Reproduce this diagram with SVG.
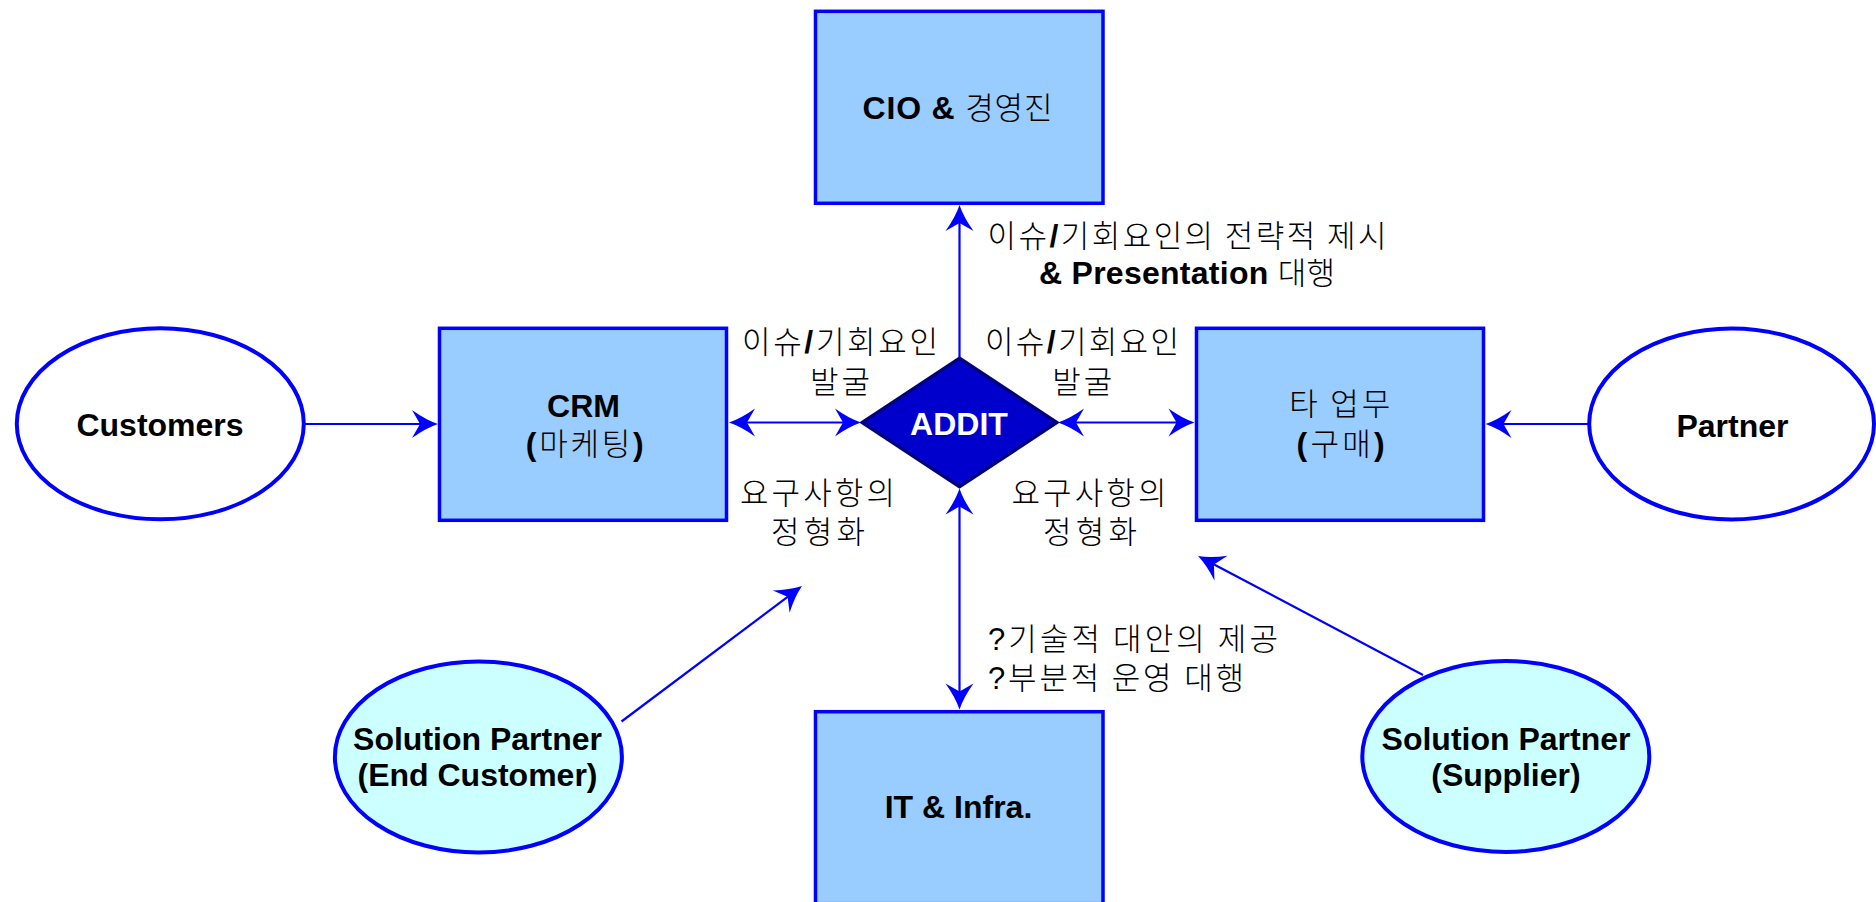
<svg xmlns="http://www.w3.org/2000/svg" width="1876" height="902" viewBox="0 0 1876 902">
  <style>
    .box { fill: #99CCFF; stroke: #0000FF; stroke-width: 3.5; }
    .oval { fill: #FFFFFF; stroke: #0000FF; stroke-width: 4; }
    .oval2 { fill: #CCFFFF; stroke: #0000FF; stroke-width: 4; }
    .hub { fill: #0000CC; stroke: #000080; stroke-width: 3.5; stroke-linejoin: miter; }
    .link { fill: none; stroke: #0000FF; stroke-width: 2.2; }
    .one { marker-end: url(#ah); }
    .two { marker-start: url(#ah); marker-end: url(#ah); }
    text { fill: #000000; }
    .b { font-family: "Liberation Sans", Arial, sans-serif; font-weight: bold; font-size: 32px; }
    .k { font-family: "Noto Sans CJK KR", "Noto Sans CJK SC", sans-serif; font-weight: 300; font-size: 31px; }
    .q { font-family: "Liberation Sans", Arial, sans-serif; font-weight: normal; font-size: 31px; }
    .w { fill: #FFFFFF; }
  </style>
  <defs>
    <marker id="ah" viewBox="-27 -15 28 30" refX="-8" refY="0" markerWidth="28" markerHeight="30" markerUnits="userSpaceOnUse" orient="auto-start-reverse">
      <path d="M0,0 Q-12,-4 -26,-14 L-18,0 L-26,14 Q-12,4 0,0 Z" fill="#0000FF"/>
    </marker>
  </defs>

  <rect width="1876" height="902" fill="#FFFFFF"/>

  <!-- connectors -->
  <g id="connectors">
    <path class="link one" d="M303.5,424 H430"/>
    <path class="link one" d="M1589,424 H1493.5"/>
    <path class="link two" d="M737,422.5 H853"/>
    <path class="link two" d="M1066,422.5 H1186.5"/>
    <path class="link one" d="M959.5,357 V213"/>
    <path class="link two" d="M959.5,496.5 V701.5"/>
    <path class="link one" d="M621.5,721.5 L795.6,590.8"/>
    <path class="link one" d="M1423,675 L1205.1,559.7"/>
  </g>

  <!-- connector labels -->
  <g id="labels">
    <text x="840" y="353" text-anchor="middle" textLength="196" lengthAdjust="spacing"><tspan class="k">이슈</tspan><tspan class="b">/</tspan><tspan class="k">기회요인</tspan></text>
    <text class="k" x="840" y="393" text-anchor="middle" textLength="60" lengthAdjust="spacing">발굴</text>
    <text class="k" x="817.5" y="504" text-anchor="middle" textLength="155" lengthAdjust="spacing">요구사항의</text>
    <text class="k" x="818" y="543" text-anchor="middle" textLength="94" lengthAdjust="spacing">정형화</text>

    <text x="1082" y="353" text-anchor="middle" textLength="194" lengthAdjust="spacing"><tspan class="k">이슈</tspan><tspan class="b">/</tspan><tspan class="k">기회요인</tspan></text>
    <text class="k" x="1082.3" y="393" text-anchor="middle" textLength="60" lengthAdjust="spacing">발굴</text>
    <text class="k" x="1089" y="504" text-anchor="middle" textLength="155" lengthAdjust="spacing">요구사항의</text>
    <text class="k" x="1090" y="543" text-anchor="middle" textLength="94" lengthAdjust="spacing">정형화</text>

    <text x="1187" y="247" text-anchor="middle" textLength="399" lengthAdjust="spacing"><tspan class="k">이슈</tspan><tspan class="b">/</tspan><tspan class="k">기회요인의 전략적 제시</tspan></text>
    <text x="1187" y="284" text-anchor="middle" textLength="296" lengthAdjust="spacing"><tspan class="b">&amp; Presentation </tspan><tspan class="k">대행</tspan></text>

    <text x="988" y="650" textLength="290" lengthAdjust="spacing"><tspan class="q">?</tspan><tspan class="k">기술적 대안의 제공</tspan></text>
    <text x="988" y="689" textLength="256" lengthAdjust="spacing"><tspan class="q">?</tspan><tspan class="k">부분적 운영 대행</tspan></text>
  </g>

  <!-- nodes -->
  <g id="node-cio">
    <rect class="box" x="815.5" y="11.3" width="287.5" height="192"/>
    <text x="957.5" y="119" text-anchor="middle" textLength="190" lengthAdjust="spacing"><tspan class="b">CIO &amp; </tspan><tspan class="k">경영진</tspan></text>
  </g>

  <g id="node-crm">
    <rect class="box" x="439.5" y="328.3" width="287" height="192"/>
    <text class="b" x="583.5" y="417" text-anchor="middle">CRM</text>
    <text x="584.7" y="455" text-anchor="middle" textLength="118" lengthAdjust="spacing"><tspan class="b">(</tspan><tspan class="k">마케팅</tspan><tspan class="b">)</tspan></text>
  </g>

  <g id="node-other">
    <rect class="box" x="1196.5" y="328.3" width="287" height="192"/>
    <text class="k" x="1339.7" y="415" text-anchor="middle" textLength="101" lengthAdjust="spacing">타 업무</text>
    <text x="1340.6" y="455" text-anchor="middle" textLength="88" lengthAdjust="spacing"><tspan class="b">(</tspan><tspan class="k">구매</tspan><tspan class="b">)</tspan></text>
  </g>

  <g id="node-it">
    <rect class="box" x="815.5" y="711.7" width="287.5" height="192"/>
    <text class="b" x="958.5" y="817.5" text-anchor="middle">IT &amp; Infra.</text>
  </g>

  <g id="node-addit">
    <polygon class="hub" points="959.5,358.3 1056.7,422.5 959.5,486.7 862.3,422.5"/>
    <text class="b w" x="959" y="435" text-anchor="middle">ADDIT</text>
  </g>

  <g id="node-customers">
    <ellipse class="oval" cx="160.3" cy="423.8" rx="143.5" ry="95.5"/>
    <text class="b" x="160" y="436" text-anchor="middle">Customers</text>
  </g>

  <g id="node-partner">
    <ellipse class="oval" cx="1731.6" cy="424" rx="142.4" ry="95.5"/>
    <text class="b" x="1732.5" y="436.5" text-anchor="middle">Partner</text>
  </g>

  <g id="node-sp-end">
    <ellipse class="oval2" cx="478.4" cy="757" rx="143.5" ry="95.5"/>
    <text class="b" x="477.5" y="750" text-anchor="middle">Solution Partner</text>
    <text class="b" x="477.5" y="786" text-anchor="middle">(End Customer)</text>
  </g>

  <g id="node-sp-supplier">
    <ellipse class="oval2" cx="1505.8" cy="756.5" rx="143.5" ry="95.5"/>
    <text class="b" x="1506" y="750" text-anchor="middle">Solution Partner</text>
    <text class="b" x="1506" y="786" text-anchor="middle">(Supplier)</text>
  </g>
</svg>
